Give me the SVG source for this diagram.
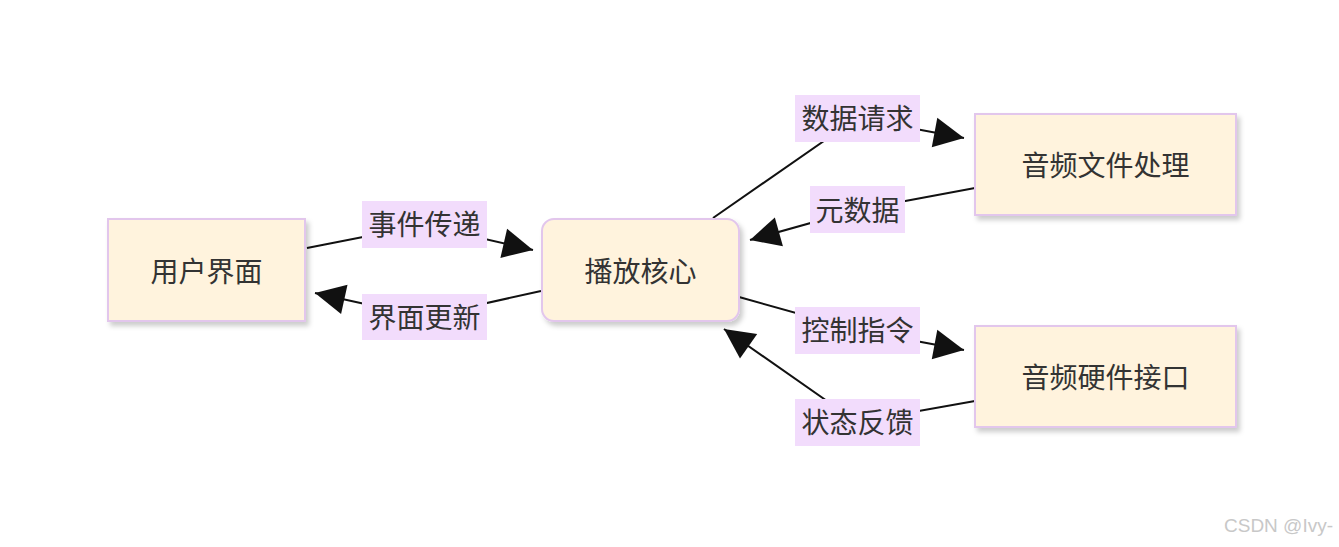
<svg xmlns="http://www.w3.org/2000/svg" width="1339" height="547" viewBox="0 0 1339 547">
<style>
.n{fill:#fff3dd;stroke:#e2c6ec;stroke-width:2;filter:url(#sh)}
.t{font-family:"Noto Sans CJK SC",sans-serif;font-size:28px;fill:#333;text-anchor:middle;dominant-baseline:central}
.lb{fill:#f2dcfc}
.e{fill:none;stroke:#111;stroke-width:2;marker-end:url(#ah)}
</style>
<defs>
<filter id="sh" x="-10%" y="-10%" width="130%" height="140%"><feDropShadow dx="3" dy="4" stdDeviation="2.5" flood-color="#000" flood-opacity="0.2"/></filter>
<marker id="ah" viewBox="0 0 10 10" refX="10" refY="5" markerWidth="12" markerHeight="12" markerUnits="userSpaceOnUse" orient="auto" style="overflow:visible"><path d="M0,0L10,5L0,10z" fill="#111" transform="scale(2.5) translate(-6,-3)"/></marker>
</defs>
<rect width="1339" height="547" fill="#fff"/>
<g id="edges">
<path class="e" d="M307,248 L424,225 L533,250"/>
<path class="e" d="M541,291 L424,317 L315,293"/>
<path class="e" d="M713,218 L857,118 L964,138"/>
<path class="e" d="M975,188 L857,210 L750,240"/>
<path class="e" d="M739,297 L857,330 L964,350"/>
<path class="e" d="M975,401 L857,422 L724,329"/>
</g>
<g id="labels">
<rect class="lb" x="362" y="201" width="125" height="47"/><text class="t" x="424.5" y="223">事件传递</text>
<rect class="lb" x="362" y="294" width="125" height="46"/><text class="t" x="424.5" y="316">界面更新</text>
<rect class="lb" x="795" y="95" width="125" height="47"/><text class="t" x="857.5" y="117">数据请求</text>
<rect class="lb" x="810" y="186" width="95" height="47"/><text class="t" x="857.5" y="209">元数据</text>
<rect class="lb" x="795" y="307" width="125" height="47"/><text class="t" x="857.5" y="329">控制指令</text>
<rect class="lb" x="795" y="399" width="125" height="47"/><text class="t" x="857.5" y="421">状态反馈</text>
</g>
<g id="n1"><rect class="n" x="108" y="219" width="197" height="102"/><text class="t" x="206.5" y="270">用户界面</text></g>
<g id="n2"><rect class="n" x="542" y="219" width="197" height="102" rx="12"/><text class="t" x="640.5" y="270">播放核心</text></g>
<g id="n3"><rect class="n" x="975" y="114" width="261" height="101"/><text class="t" x="1105.5" y="164">音频文件处理</text></g>
<g id="n4"><rect class="n" x="975" y="326" width="261" height="101"/><text class="t" x="1105.5" y="376">音频硬件接口</text></g>
<text x="1333" y="532" style="font-family:'Liberation Sans',sans-serif;font-size:19px;fill:#c8c8c8;text-anchor:end">CSDN @Ivy-</text>
</svg>
